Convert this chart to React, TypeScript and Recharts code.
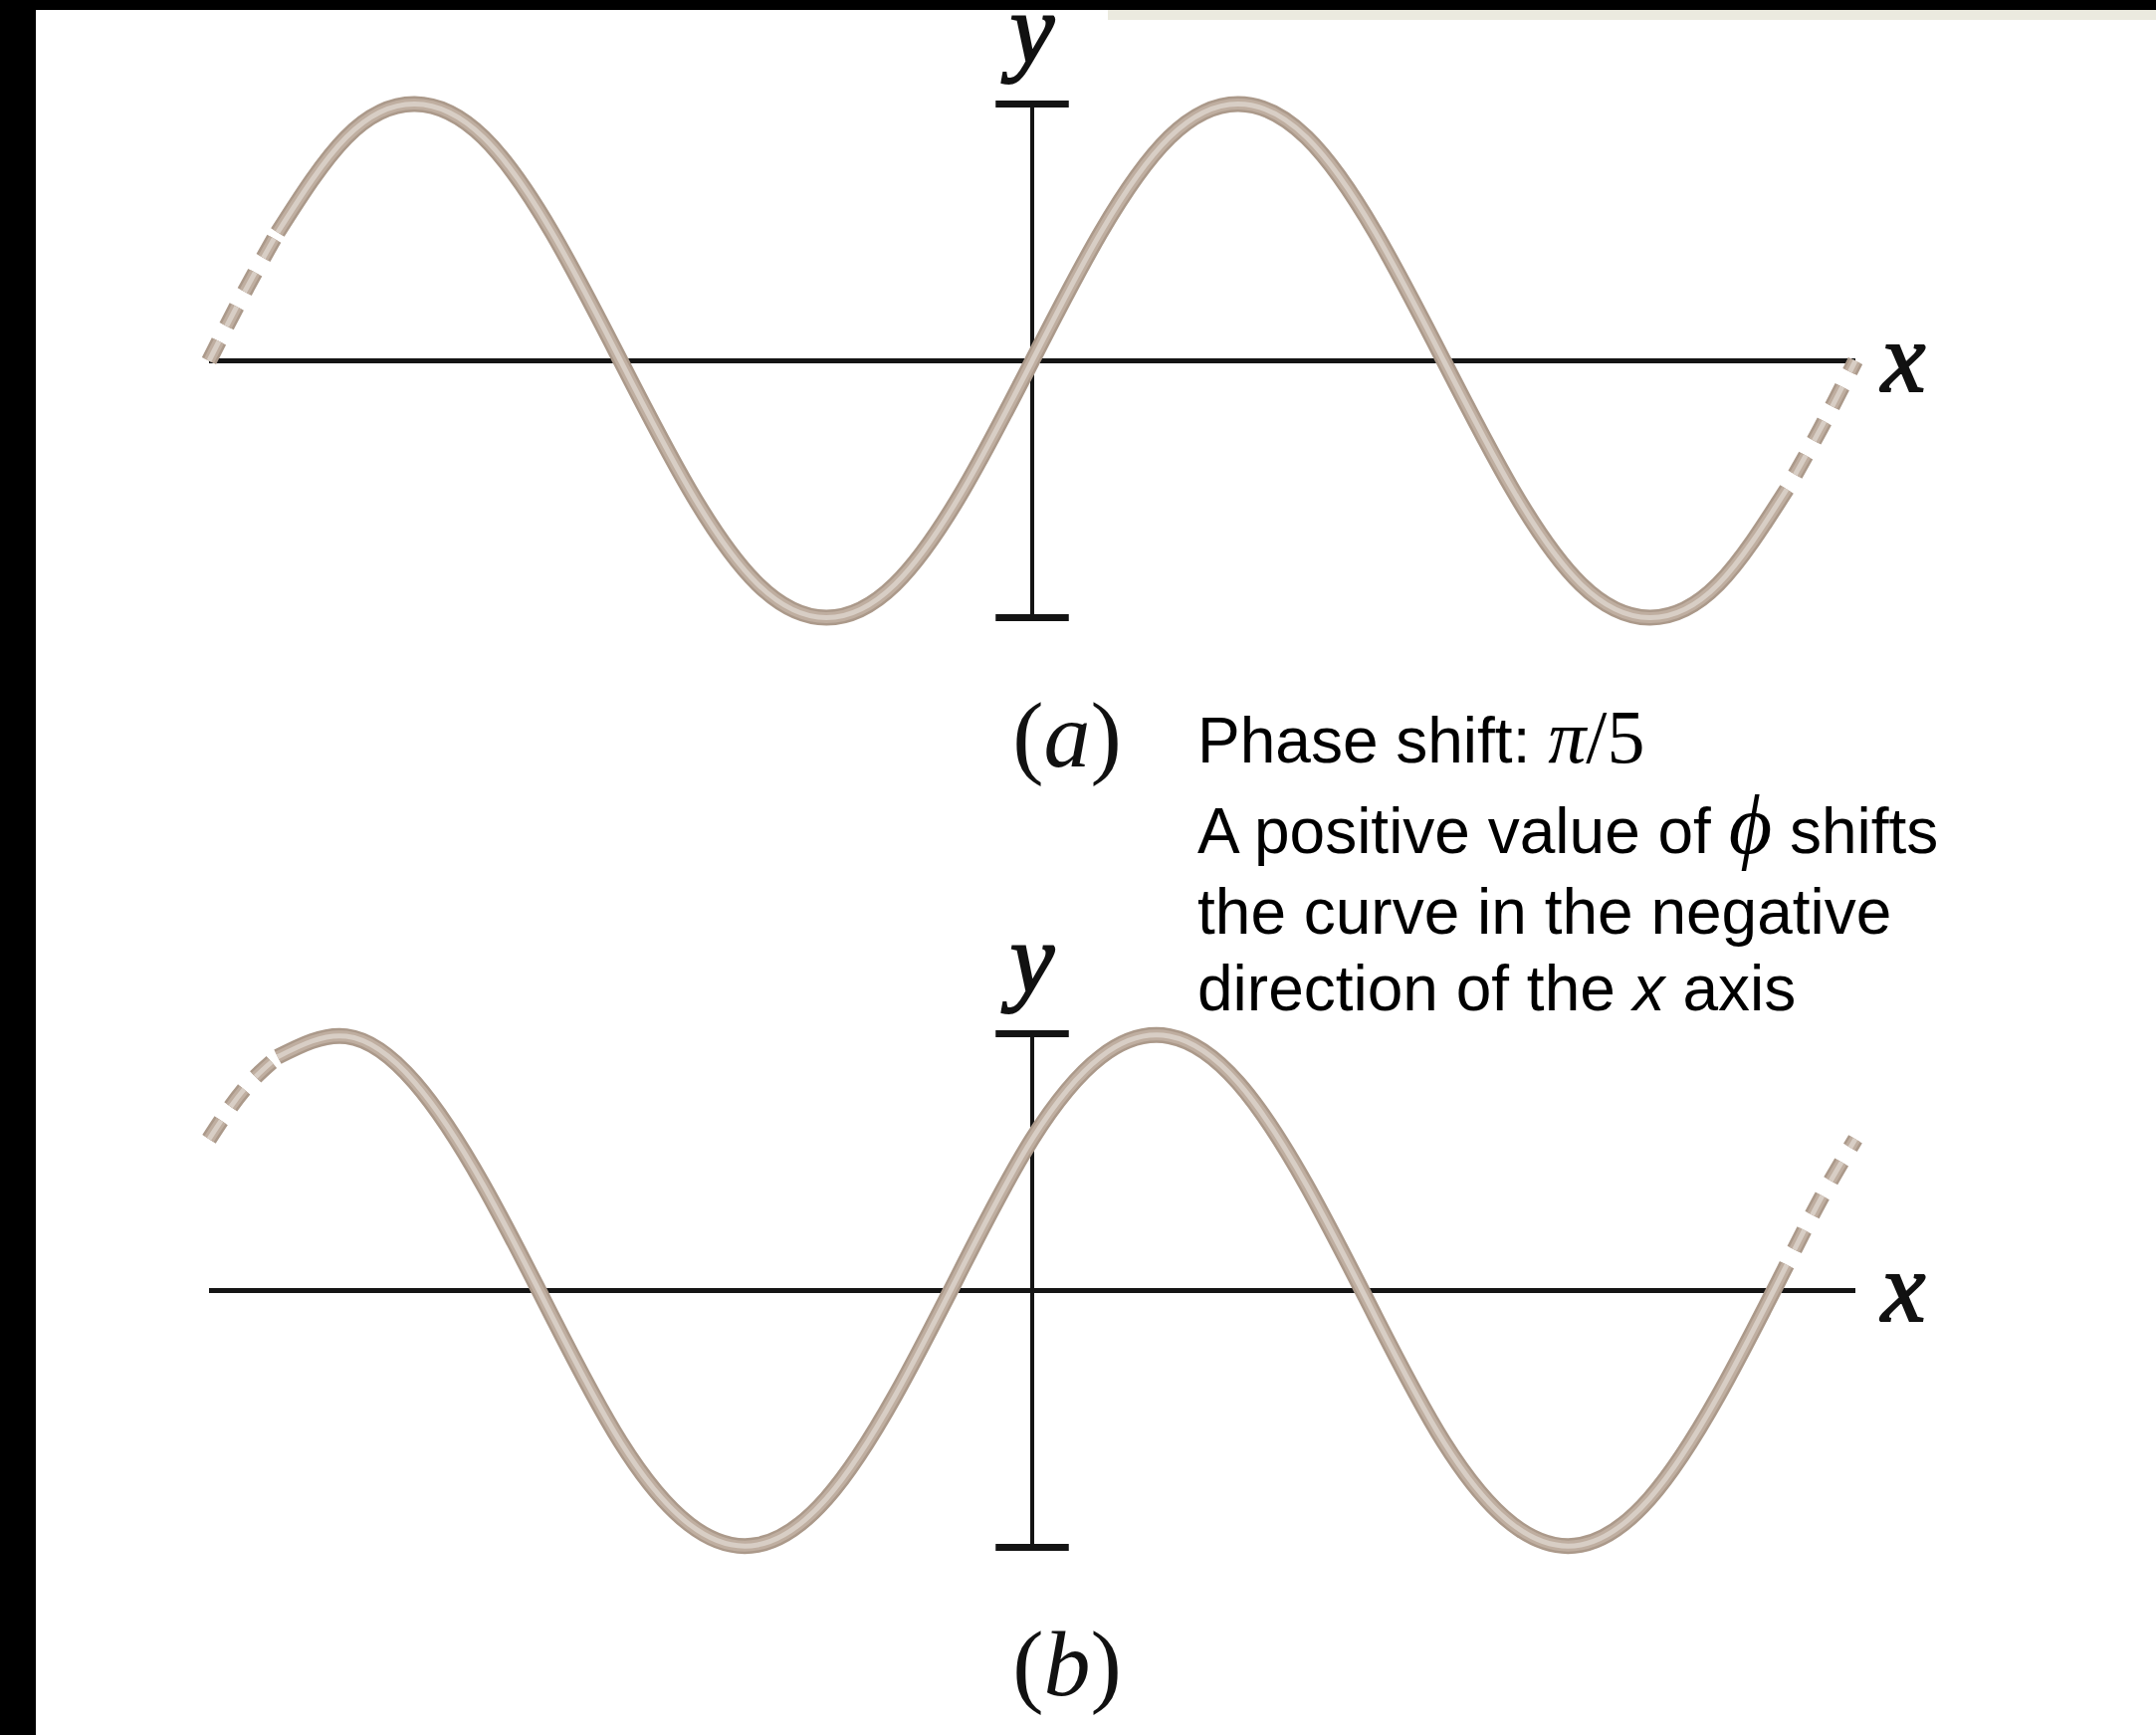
import { LineChart, Line, XAxis, YAxis, ReferenceLine } from "recharts";

// phase angle (degrees) along the x axis, one wavelength = 360
const phaseDeg = [
  -360, -345, -330, -300, -270, -240, -210, -180, -150, -120, -90, -60, -30,
  0, 30, 60, 90, 120, 150, 180, 210, 240, 270, 300, 330, 345, 360,
];

// (a) y, in units of the amplitude
const waveA = [
  0, 0.26, 0.5, 0.87, 1, 0.87, 0.5, 0, -0.5, -0.87, -1, -0.87, -0.5,
  0, 0.5, 0.87, 1, 0.87, 0.5, 0, -0.5, -0.87, -1, -0.87, -0.5, -0.26, 0,
];

// (b) same wave, shifted left by pi/5
const waveB = [
  0.59, 0.78, 0.91, 0.99, 0.81, 0.41, -0.1, -0.59, -0.91, -0.99, -0.81, -0.41, 0.1,
  0.59, 0.91, 0.99, 0.81, 0.41, -0.1, -0.59, -0.91, -0.99, -0.81, -0.41, 0.1, 0.36, 0.59,
];

// the curve is drawn solid between these phases, dashed outside
const solidFrom = -330;
const solidTo = 330;

const SANS = "'Liberation Sans', Arial, Helvetica, sans-serif";
const SERIF = "'Liberation Serif', 'DejaVu Serif', 'Times New Roman', serif";

const CAP = 16;
const CHART_W = 2166;
const CHART_H = 909;
const MARGIN = { top: 140, right: 302, bottom: 124, left: 210 };

function buildRows(values: number[]) {
  return phaseDeg.map((x, i) => ({
    x,
    solid: x >= solidFrom && x <= solidTo ? values[i] : null,
    left: x <= solidFrom ? values[i] : null,
    right: x >= solidTo ? values[i] : null,
  }));
}

// rope look: dark edge, mid tone, light core
const layers = [
  { w: 16, c: "#ab998a" },
  { w: 11, c: "#bfaea0" },
  { w: 5, c: "#d8cec5" },
];

const parts = [
  { key: "solid", dash: undefined },
  { key: "left", dash: "22 17" },
  { key: "right", dash: "0 17 22 0" },
];

const letterStyle = {
  fontFamily: SERIF,
  fontStyle: "italic",
  fontSize: 100,
  fill: "#111",
  stroke: "#111",
  strokeWidth: 2,
};

function Wave({ values, top }: { values: number[]; top: number }) {
  const data = buildRows(values);
  return (
    <div style={{ position: "absolute", left: 0, top, width: CHART_W, height: CHART_H }}>
      <LineChart width={CHART_W} height={CHART_H} data={data} margin={MARGIN}>
        <XAxis dataKey="x" type="number" domain={[-360, 360]} hide />
        <YAxis type="number" domain={[-1.25, 1.25]} hide />
        <ReferenceLine
          y={0}
          stroke="#141414"
          strokeWidth={5}
          label={{
            content: (p: any) =>
              p.viewBox ? (
                <text x={p.viewBox.x + p.viewBox.width + 26} y={p.viewBox.y + 30} {...letterStyle}>
                  x
                </text>
              ) : null,
          }}
        />
        <ReferenceLine
          segment={[{ x: 0, y: -1 }, { x: 0, y: 1 }]}
          stroke="#141414"
          strokeWidth={4}
          label={{
            content: (p: any) =>
              p.viewBox ? (
                <text x={p.viewBox.x} y={p.viewBox.y - 42} textAnchor="middle" {...letterStyle}>
                  y
                </text>
              ) : null,
          }}
        />
        <ReferenceLine segment={[{ x: -CAP, y: 1 }, { x: CAP, y: 1 }]} stroke="#141414" strokeWidth={7} />
        <ReferenceLine segment={[{ x: -CAP, y: -1 }, { x: CAP, y: -1 }]} stroke="#141414" strokeWidth={7} />
        {parts.map((part) =>
          layers.map((layer, li) => (
            <Line
              key={part.key + li}
              dataKey={part.key}
              type="natural"
              stroke={layer.c}
              strokeWidth={layer.w}
              strokeDasharray={part.dash}
              strokeLinecap="butt"
              dot={false}
              activeDot={false}
              connectNulls={false}
              isAnimationActive={false}
            />
          ))
        )}
      </LineChart>
    </div>
  );
}

export default function App() {
  return (
    <div
      style={{
        position: "absolute",
        left: 0,
        top: 0,
        width: 2166,
        height: 1743,
        background: "#fff",
        overflow: "hidden",
      }}
    >
      <Wave values={waveA} top={-100} />
      <Wave values={waveB} top={834} />

      <div style={{ position: "absolute", left: 0, top: 0, width: 36, height: 1743, background: "#000" }} />
      <div style={{ position: "absolute", left: 0, top: 0, width: 2166, height: 10, background: "#000" }} />
      <div style={{ position: "absolute", left: 1113, top: 10, width: 1053, height: 10, background: "#ebeadf" }} />

      <svg
        width={2166}
        height={1743}
        style={{ position: "absolute", left: 0, top: 0, pointerEvents: "none" }}
      >
        <text x={1072} y={770} textAnchor="middle" fontFamily={SERIF} fontSize={94} fill="#111">
          (<tspan fontStyle="italic">a</tspan>)
        </text>
        <text x={1072} y={1703} textAnchor="middle" fontFamily={SERIF} fontSize={94} fill="#111">
          (<tspan fontStyle="italic">b</tspan>)
        </text>

        <g fontFamily={SANS} fontSize={64} fill="#000">
          <text x={1203} y={766}>
            {"Phase shift: "}
            <tspan fontFamily={SERIF} fontStyle="italic" fontSize={76}>π</tspan>
            <tspan fontFamily={SERIF} fontSize={76}>/5</tspan>
          </text>
          <text x={1203} y={857}>
            {"A positive value of "}
            <tspan fontFamily={SERIF} fontStyle="italic" fontSize={84}>ϕ</tspan>
            {" shifts"}
          </text>
          <text x={1203} y={938}>the curve in the negative</text>
          <text x={1203} y={1015}>
            {"direction of the "}
            <tspan fontStyle="italic">x</tspan>
            {" axis"}
          </text>
        </g>
      </svg>
    </div>
  );
}
